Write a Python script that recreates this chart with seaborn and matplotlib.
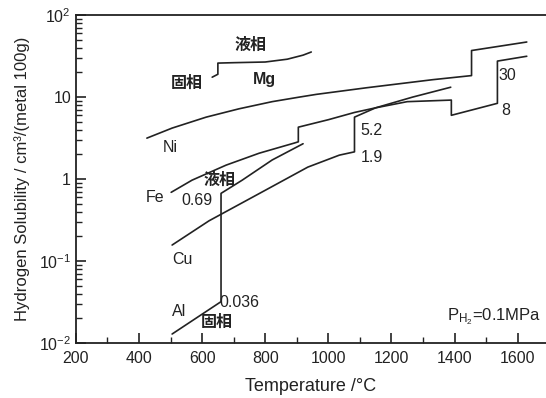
import numpy as np
import pandas as pd
import matplotlib
matplotlib.use('Agg')
import matplotlib.pyplot as plt
from matplotlib.ticker import LogLocator, NullFormatter, MultipleLocator
import seaborn as sns

# hydrogen solubility (cm3 / 100 g metal) vs temperature
mg_t = [632, 650, 650, 700, 800, 870, 920, 946]
mg_h = [17.5, 19, 26, 26.3, 26.8, 29, 32.5, 35.5]

ni_t = [425, 505, 613, 717, 822, 908, 962, 1121, 1330, 1454, 1454, 1629]
ni_h = [3.16, 4.19, 5.7, 7.2, 8.8, 10.0, 10.8, 13.0, 16.3, 18.3, 37, 47]

fe_t = [502, 568, 676, 781, 892, 905, 905, 1000, 1083, 1150, 1250, 1390, 1390, 1536, 1536, 1629]
fe_h = [0.69, 0.97, 1.48, 2.07, 2.75, 2.85, 4.3, 5.3, 6.5, 7.4, 8.8, 9.2, 6.0, 8.4, 27.5, 31.5]

cu_t = [505, 622, 800, 935, 1035, 1083, 1083, 1150, 1267, 1388]
cu_h = [0.157, 0.31, 0.73, 1.4, 1.96, 2.15, 5.7, 7.4, 10, 13.2]

al_t = [505, 660, 660, 727, 822, 920]
al_h = [0.0129, 0.032, 0.67, 0.97, 1.71, 2.7]

y_ticks = [0.01, 0.1, 1, 10, 100]
y_tick_labels = ['10$^{-2}$', '10$^{-1}$', '1', '10', '10$^{2}$']
x_ticks = [200, 400, 600, 800, 1000, 1200, 1400, 1600]

# build a long table for seaborn
frames = []
for name, t, h in [('Mg', mg_t, mg_h), ('Ni', ni_t, ni_h), ('Fe', fe_t, fe_h),
                   ('Cu', cu_t, cu_h), ('Al', al_t, al_h)]:
    frames.append(pd.DataFrame({'metal': name, 'T': t, 'H': h}))
df = pd.concat(frames, ignore_index=True)

sns.set_style('ticks')
plt.rcParams['font.family'] = ['Liberation Sans', 'Noto Sans CJK JP', 'DejaVu Sans']
plt.rcParams['mathtext.fontset'] = 'custom'
plt.rcParams['mathtext.rm'] = 'Liberation Sans'
plt.rcParams['mathtext.it'] = 'Liberation Sans:italic'
plt.rcParams['mathtext.bf'] = 'Liberation Sans:bold'

fig = plt.figure(figsize=(5.46, 3.98), dpi=100)
ax = fig.add_axes([0.139, 0.138, 0.861, 0.824])

ink = '#222222'
sns.lineplot(data=df, x='T', y='H', units='metal', estimator=None, sort=False,
             color=ink, linewidth=1.2, ax=ax)

ax.set_yscale('log')
ax.set_xlim(200, 1690)
ax.set_ylim(0.01, 100)

ax.set_xticks(x_ticks)
ax.xaxis.set_minor_locator(MultipleLocator(100))
ax.set_yticks(y_ticks)
ax.set_yticklabels(y_tick_labels)
ax.yaxis.set_minor_locator(LogLocator(base=10, subs=np.arange(2, 10)))
ax.yaxis.set_minor_formatter(NullFormatter())

ax.tick_params(axis='both', which='major', direction='in', length=7, width=1.2,
               labelsize=11.5, colors=ink)
ax.tick_params(axis='both', which='minor', direction='in', length=4, width=1.0, colors=ink)
ax.tick_params(axis='x', pad=6)

for s in ['left', 'bottom', 'top']:
    ax.spines[s].set_linewidth(1.3)
    ax.spines[s].set_color(ink)
ax.spines['right'].set_visible(False)

ax.set_xlabel('Temperature /°C', fontsize=13, color=ink, labelpad=8)
ax.set_ylabel('Hydrogen Solubility / cm³/(metal 100g)', fontsize=12, color=ink, labelpad=6)

lab = dict(fontsize=11.5, color=ink, ha='center', va='center')
ax.text(752, 43, '液相', fontweight='bold', **lab)
ax.text(552, 14.8, '固相', fontweight='bold', **lab)
ax.text(797, 16.6, 'Mg', fontweight='bold', **lab)
ax.text(498, 2.4, 'Ni', **lab)
ax.text(452, 0.59, 'Fe', **lab)
ax.text(585, 0.55, '0.69', **lab)
ax.text(654, 0.97, '液相', fontweight='bold', **lab)
ax.text(537, 0.106, 'Cu', **lab)
ax.text(527, 0.024, 'Al', **lab)
ax.text(717, 0.031, '0.036', **lab)
ax.text(648, 0.018, '固相', fontweight='bold', **lab)
ax.text(1138, 3.96, '5.2', **lab)
ax.text(1138, 1.85, '1.9', **lab)
ax.text(1568, 18.5, '30', **lab)
ax.text(1562, 6.9, '8', **lab)
ax.text(1675, 0.021, 'P$_{\\mathrm{H_2}}$=0.1MPa', fontsize=12, color=ink,
        ha='right', va='center')

fig.savefig('out.png', dpi=100)
